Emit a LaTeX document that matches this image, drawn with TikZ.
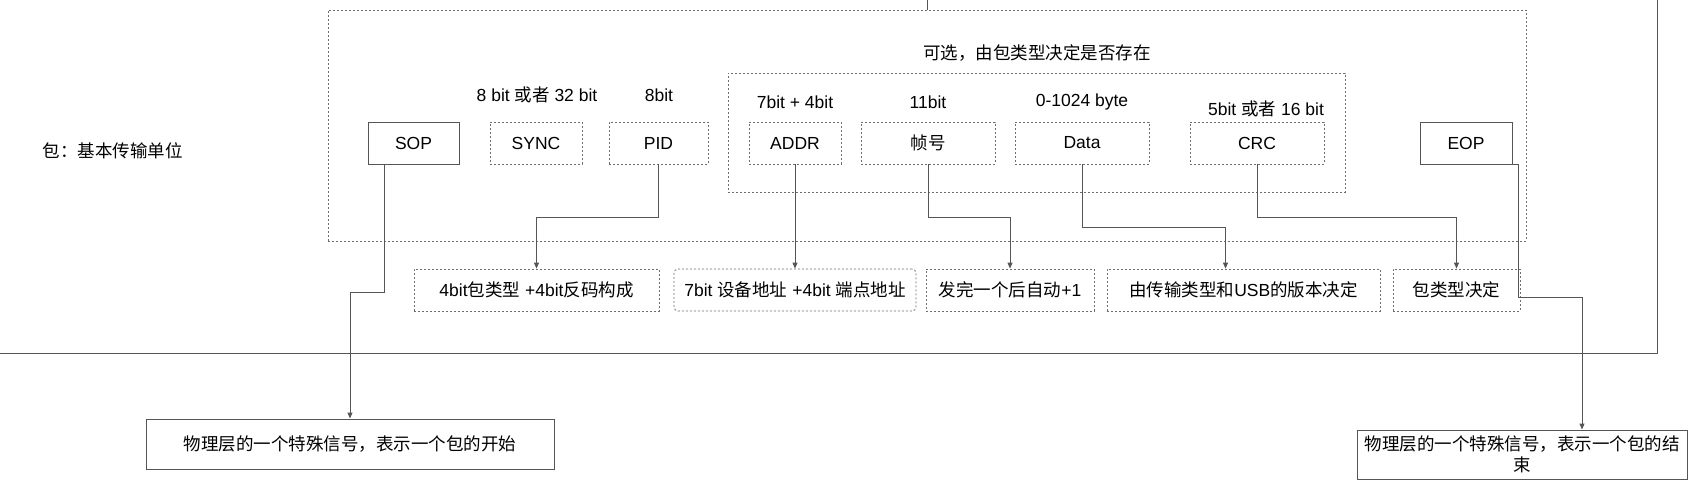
\documentclass[tikz,border=0pt]{standalone}
\usepackage{fontspec}
\setmainfont{Liberation Sans}
\newfontfamily\cjk{Noto Sans CJK SC}
\newcommand\zh[1]{{\cjk #1}}
\usetikzlibrary{arrows.meta,positioning,calc}
\definecolor{solidln}{HTML}{555555}
\definecolor{dashln}{HTML}{6E6E6E}
\begin{document}
\begin{tikzpicture}[x=1pt,y=1pt,
  font=\fontsize{17.5}{21}\selectfont,
  solidbox/.style={draw=solidln,line width=1pt,inner sep=0pt,minimum height=42pt,align=center},
  dashbox/.style={draw=dashln,line width=0.8pt,dash pattern=on 2pt off 2pt,inner sep=0pt,minimum height=42pt,align=center},
  lbl/.style={inner sep=0pt,anchor=center},
  conn/.style={draw=solidln,line width=1pt},
  arr/.style={conn,-{Triangle[length=6pt,width=5pt]}}
]
\useasboundingbox (0,0) rectangle (1697,-487);
% big solid container (partially visible)
\draw[conn] (-5,-353) -- (1657,-353) -- (1657,5);
% containers
\node[dashbox,minimum width=1198pt,minimum height=231pt] (pkt) at (927,-125.5) {};
\node[dashbox,minimum width=617pt,minimum height=119pt] (opt) at (1036.5,-132.5) {};
\coordinate (topin) at (927,2);
\draw[conn] (topin) -- (pkt.north);
% left title
\node[lbl] (title) at (112.5,-151) {\zh{包：基本传输单位}};
% fields
\node[solidbox,minimum width=91pt] (sop) at (413.5,-143) {SOP};
\node[dashbox,minimum width=92pt] (sync) at (536,-143) {SYNC};
\node[dashbox,minimum width=99pt] (pid) at (658.5,-143) {PID};
\node[dashbox,minimum width=92pt] (addr) at (795,-143) {ADDR};
\node[dashbox,minimum width=134pt] (frm) at (928,-143) {\zh{帧号}};
\node[dashbox,minimum width=134pt] (data) at (1082,-143) {Data};
\node[dashbox,minimum width=134pt] (crc) at (1257,-143) {CRC};
\node[solidbox,minimum width=92pt] (eop) at (1466,-143) {EOP};
% size labels
\node[lbl] (lsync) at (537,-95) {8 bit \zh{或者} 32 bit};
\node[lbl] (lpid) at (659,-95) {8bit};
\node[lbl] (laddr) at (795,-102) {7bit + 4bit};
\node[lbl] (lfrm) at (928,-102) {11bit};
\node[lbl] (ldata) at (1082,-102) {0-1024 byte};
\node[lbl] (lcrc) at (1266,-109) {5bit \zh{或者} 16 bit};
\node[lbl] (lopt) at (1037,-53) {\zh{可选，由包类型决定是否存在}};
% description boxes
\node[dashbox,minimum width=245pt] (b1) at (536.5,-290) {4bit\zh{包类型} +4bit\zh{反码构成}};
\node[dashbox,minimum width=242pt,rounded corners=4pt] (b2) at (795,-290) {7bit \zh{设备地址} +4bit \zh{端点地址}};
\node[dashbox,minimum width=168pt] (b3) at (1010,-290) {\zh{发完一个后自动}+1};
\node[dashbox,minimum width=273pt] (b4) at (1243.5,-290) {\zh{由传输类型和}USB\zh{的版本决定}};
\node[dashbox,minimum width=127pt] (b5) at (1456.5,-290) {\zh{包类型决定}};
\node[solidbox,minimum width=408pt,minimum height=50pt] (sopd) at (350,-444) {\zh{物理层的一个特殊信号，表示一个包的开始}};
\node[solidbox,minimum width=330pt,minimum height=49pt] (eopd) at (1522,-454.5) {\zh{物理层的一个特殊信号，表示一个包的结}\\\zh{束}};
% connectors
\draw[arr] ([xshift=-29.5pt]sop.south) -- ++(0,-128) -| (sopd.north);
\draw[arr] (pid.south) -- ++(0,-53) -| (b1.north);
\draw[arr] (addr.south) -- (b2.north);
\draw[arr] (frm.south) -- ++(0,-53) -| (b3.north);
\draw[arr] (data.south) -- ++(0,-63) -| ([xshift=-18pt]b4.north);
\draw[arr] (crc.south) -- ++(0,-53) -| (b5.north);
\draw[arr] (eop.south east) -- ++(6,0) -- ++(0,-133) -| ([xshift=60pt]eopd.north);
\end{tikzpicture}
\end{document}
